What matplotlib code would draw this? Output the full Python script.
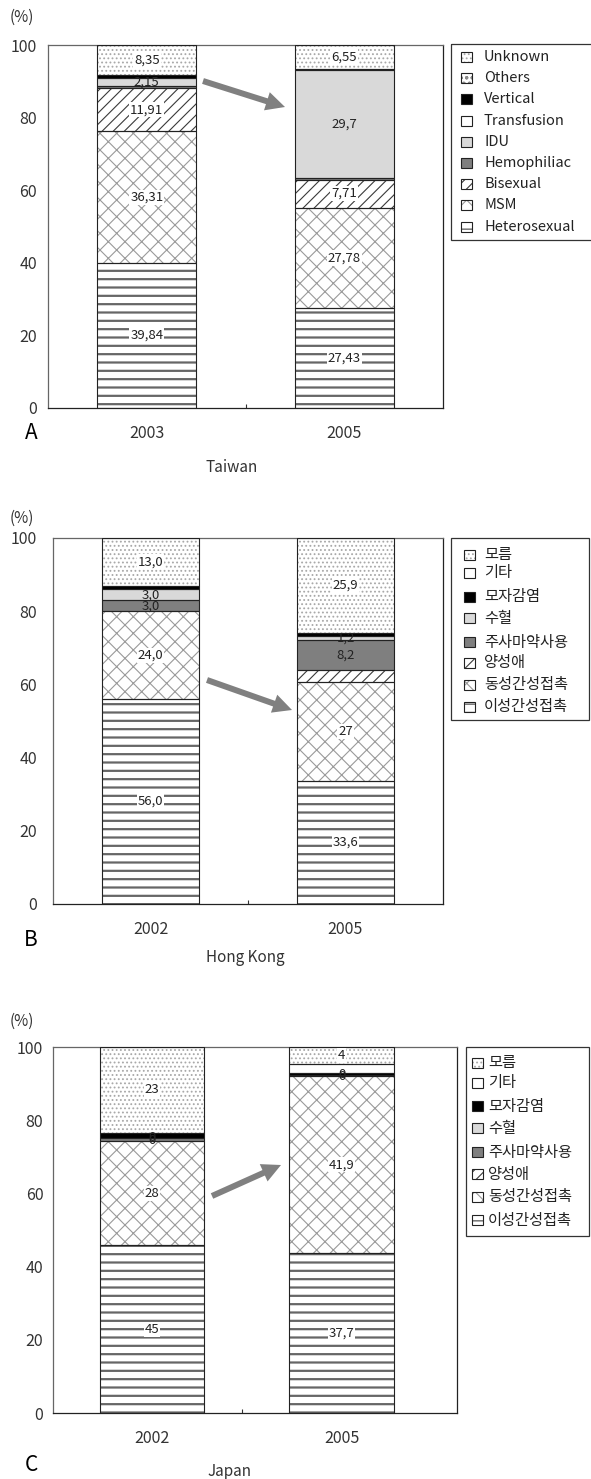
import numpy as np
import matplotlib
matplotlib.use('Agg')
import matplotlib.pyplot as plt
from matplotlib.patches import Rectangle, FancyArrow

plt.rcParams['font.family'] = ['Noto Sans CJK KR', 'DejaVu Sans']
plt.rcParams['hatch.linewidth'] = 0.8

W, H = 591, 1479

# transmission routes, bottom of the stack first
tw_groups = ['Heterosexual', 'MSM', 'Bisexual', 'Hemophiliac', 'IDU',
             'Transfusion', 'Vertical', 'Others', 'Unknown']
kr_groups = ['이성간성접촉', '동성간성접촉', '양성애', '주사마약사용', '수혈',
             '모자감염', '기타', '모름']

tw_years = ['2003', '2005']
tw_2003 = [39.84, 36.31, 11.91, 0.55, 2.15, 0, 0.8, 0, 8.35]
tw_2005 = [27.43, 27.78, 7.71, 0.5, 29.7, 0, 0.3, 0, 6.55]

hk_years = ['2002', '2005']
hk_2002 = [56.0, 24.0, 0, 3.0, 3.0, 1.0, 0, 13.0]
hk_2005 = [33.6, 27, 3.3, 8.2, 1.2, 0.8, 0, 25.9]

jp_years = ['2002', '2005']
jp_2002 = [45, 28, 0, 0.8, 0, 1.4, 0, 23]
jp_2005 = [37.7, 41.9, 0, 0.3, 0, 0.4, 2.2, 4]

# segments that get a value label
tw_shown = [0, 1, 2, 4, 8]
hk_shown = [0, 1, 3, 4, 7]
jp_shown = [0, 1, 2, 4, 7]

# (face, hatch, hatch colour, hatch line width)
HET = ('white', '--', '#666666', 1.6)
MSM = ('white', 'xx', '#9a9a9a', 0.8)
BI = ('white', '///', '#3a3a3a', 0.8)
DARK = ('#7f7f7f', None, None, 0)
LIGHT = ('#d9d9d9', None, None, 0)
WHITE = ('white', None, None, 0)
BLACK = ('black', None, None, 0)
WAVE = ('white', 'ooo', '#8a8a8a', 0.8)
DOTS = ('white', '....', '#a8a8a8', 0.8)

tw_styles = [HET, MSM, BI, DARK, LIGHT, WHITE, BLACK, WAVE, DOTS]
kr_styles = [HET, MSM, BI, DARK, LIGHT, BLACK, WHITE, DOTS]


def px_axes(fig, left, top, right, bottom):
    return fig.add_axes([left / W, 1 - bottom / H, (right - left) / W, (bottom - top) / H])


def set_hatch_width(patch, lw):
    if lw and hasattr(patch, 'set_hatch_linewidth'):
        patch.set_hatch_linewidth(lw)


def stacked(ax, years, series, styles, shown, fmts, width, xlim, mid, ypad):
    x = np.arange(len(years))
    for xi, vals, fmt in zip(x, series, fmts):
        vals = np.array(vals, dtype=float)
        pct = vals / vals.sum() * 100
        bottoms = np.concatenate([[0], np.cumsum(pct)[:-1]])
        for i, (p, b) in enumerate(zip(pct, bottoms)):
            face, hatch, hc, hlw = styles[i]
            if p > 0:
                bars = ax.bar(xi, p, width, bottom=b, color=face, hatch=hatch,
                              edgecolor=hc if hatch else face, linewidth=0, zorder=2)
                for patch in bars:
                    set_hatch_width(patch, hlw)
                ax.bar(xi, p, width, bottom=b, fill=False, edgecolor='#222222',
                       linewidth=0.8, zorder=3)
            if i in shown:
                box = None
                if hatch and p > 2:
                    box = dict(boxstyle='square,pad=0.08', fc='white', ec='none')
                ax.text(xi, b + p / 2, fmt.format(vals[i]).replace('.', ','),
                        ha='center', va='center', fontsize=9.5, color='#222222',
                        bbox=box, zorder=4)

    ax.set_xlim(*xlim)
    ax.set_ylim(0, 100)
    ax.set_yticks(range(0, 101, 20))
    ax.tick_params(axis='y', length=0, pad=ypad, labelsize=11.5, labelcolor='#333333')
    ax.set_xticks(x)
    ax.set_xticklabels(years)
    ax.tick_params(axis='x', which='major', length=0, pad=12, labelsize=11.5,
                   labelcolor='#333333')
    ax.set_xticks([mid], minor=True)
    ax.tick_params(axis='x', which='minor', direction='in', length=3,
                   color='#333333', width=0.8)
    for name, sp in ax.spines.items():
        sp.set_linewidth(0.9)
        sp.set_color('#222222' if name in ('bottom', 'right') else '#666666')


def legend_box(ov, box, names, styles, ys, icon_x, text_x, fs):
    l, t, r, b = box
    ov.add_patch(Rectangle((l, t), r - l, b - t, fill=False, ec='#333333', lw=0.9))
    for name, st, y in zip(names, styles, ys):
        face, hatch, hc, hlw = st
        icon = Rectangle((icon_x, y - 5), 11, 10, fc=face, hatch=hatch,
                         ec=hc if hatch else face, lw=0)
        set_hatch_width(icon, min(hlw, 1.0))
        ov.add_patch(icon)
        ov.add_patch(Rectangle((icon_x, y - 5), 11, 10, fill=False, ec='#222222', lw=0.8))
        ov.text(text_x, y, name, ha='left', va='center', fontsize=fs, color='#222222')


fig = plt.figure(figsize=(W / 100, H / 100), dpi=100)

ax_a = px_axes(fig, 48, 45, 443, 408)
stacked(ax_a, tw_years, [tw_2003, tw_2005], tw_styles, tw_shown, ['{:g}', '{:g}'],
        0.5, (-0.5, 1.5), 0.5, 8)

ax_b = px_axes(fig, 53, 538, 443, 904)
stacked(ax_b, hk_years, [hk_2002, hk_2005], kr_styles, hk_shown, ['{:.1f}', '{:g}'],
        0.5, (-0.5, 1.5), 0.5, 11.5)

ax_c = px_axes(fig, 53, 1047, 457, 1413)
stacked(ax_c, jp_years, [jp_2002, jp_2005], kr_styles, jp_shown, ['{:g}', '{:g}'],
        0.55, (-0.522, 1.609), 0.476, 7)

# overlay in pixel units for legends, arrows and captions
ov = fig.add_axes([0, 0, 1, 1], zorder=10)
ov.set_xlim(0, W)
ov.set_ylim(H, 0)
ov.axis('off')

legend_box(ov, (451, 44, 597, 240), tw_groups[::-1], tw_styles[::-1],
           [57 + 21.2 * i for i in range(9)], 461, 484, 10.5)
legend_box(ov, (451, 538, 589, 720), kr_groups[::-1], kr_styles[::-1],
           [555, 573, 597, 618, 642, 663, 685, 707], 464, 484, 11)
legend_box(ov, (466, 1047, 589, 1236), kr_groups[::-1], kr_styles[::-1],
           [1063, 1083, 1106, 1128, 1152, 1174, 1197, 1220], 472, 488, 11)

for (x0, y0), (x1, y1) in [((203, 81), (285, 107)),
                           ((207, 680), (292, 710)),
                           ((212, 1196), (281, 1165))]:
    ov.add_patch(FancyArrow(x0, y0, x1 - x0, y1 - y0, width=6, head_width=19,
                            head_length=19, length_includes_head=True,
                            color='#808080', lw=0))

for y in (17, 518, 1021):
    ov.text(22, y, '(%)', ha='center', va='center', fontsize=11, color='#333333')

for letter, y in (('A', 433), ('B', 940), ('C', 1465)):
    ov.text(31, y, letter, ha='center', va='center', fontsize=15, color='black')

for name, x, y in (('Taiwan', 232, 467), ('Hong Kong', 245, 957), ('Japan', 230, 1472)):
    ov.text(x, y, name, ha='center', va='center', fontsize=11, color='#333333')

fig.savefig('out.png', dpi=100)
